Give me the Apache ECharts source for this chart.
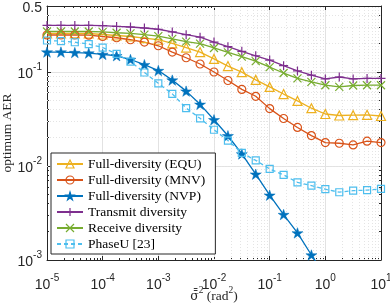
<!DOCTYPE html>
<html><head><meta charset="utf-8">
<script src="https://cdn.jsdelivr.net/npm/echarts@6/dist/echarts.min.js"></script>
<style>html,body{margin:0;padding:0;background:#fff}#c{width:390px;height:304px}</style>
</head><body><div id="c"></div>
<script>
// sample positions of sigma^2 (rad^2)
const xValues = [1e-5,1.78e-5,3.16e-5,5.62e-5,1e-4,1.78e-4,3.16e-4,5.62e-4,1e-3,1.78e-3,3.16e-3,5.62e-3,1e-2,1.78e-2,3.16e-2,5.62e-2,0.1,0.178,0.316,0.562,1,1.78,3.16,5.62,10];
const equ = [0.256,0.256,0.256,0.255,0.249,0.243,0.237,0.228,0.219,0.200,0.181,0.162,0.137,0.115,0.099,0.082,0.069,0.058,0.049,0.041,0.0356,0.0343,0.0346,0.0349,0.0339];
const mnv = [0.246,0.246,0.246,0.245,0.237,0.230,0.219,0.207,0.189,0.162,0.141,0.121,0.0995,0.0808,0.065,0.0549,0.0406,0.0319,0.0256,0.021,0.0177,0.0174,0.0167,0.0183,0.0177];
const nvp = [0.162,0.162,0.160,0.158,0.153,0.148,0.135,0.119,0.103,0.0816,0.0623,0.0451,0.0309,0.0209,0.0134,0.00816,0.00488,0.00304,0.00194,0.00113,0.00068];
const transmit = [0.311,0.311,0.311,0.311,0.309,0.303,0.299,0.292,0.283,0.265,0.248,0.233,0.207,0.185,0.165,0.148,0.133,0.116,0.102,0.092,0.084,0.088,0.084,0.085,0.085];
const receive = [0.268,0.268,0.268,0.268,0.265,0.260,0.256,0.248,0.239,0.224,0.209,0.199,0.179,0.161,0.145,0.130,0.112,0.097,0.085,0.078,0.072,0.069,0.0715,0.072,0.072];
const phaseU = [0.215,0.212,0.206,0.197,0.181,0.155,0.128,0.0983,0.0754,0.0583,0.0411,0.032,0.0242,0.0186,0.01375,0.01144,0.00929,0.00802,0.00667,0.00617,0.00565,0.00525,0.00545,0.00553,0.00569];

const seriesNames = ['Full-diversity (EQU)','Full-diversity (MNV)','Full-diversity (NVP)','Transmit diversity','Receive diversity','PhaseU [23]'];
const xTickValues = [1e-5,1e-4,1e-3,1e-2,1e-1,1,10];
const xTickLabels = ['10^-5','10^-4','10^-3','10^-2','10^-1','10^0','10^1'];
const yTickValues = [1e-3,1e-2,1e-1,0.5];
const yTickLabels = ['10^-3','10^-2','10^-1','0.5'];

const FONT = 'Liberation Serif';
const TFONT = 'Liberation Sans';
const AX = '#262626';

const minorX = [], minorY = [];
for (let d = -5; d <= 0; d++) for (let m = 2; m <= 9; m++) minorX.push(+(m * Math.pow(10, d)).toPrecision(3));
for (let d = -3; d <= -1; d++) for (let m = 2; m <= 9; m++) { const v = +(m * Math.pow(10, d)).toPrecision(3); if (v < 0.5) minorY.push(v); }

function nearestIdx(arr, v) {
  let bi = 0, bd = Infinity;
  arr.forEach((a, i) => { const d = Math.abs(Math.log10(a) - Math.log10(v)); if (d < bd) { bd = d; bi = i; } });
  return bi;
}
function fmtPow(s) {
  if (s.indexOf('^') < 0) return '{b|' + s + '}';
  const p = s.split('^');
  return '{b|' + p[0] + '}{s|' + p[1] + '}';
}
const rich = {
  b: { fontFamily: TFONT, fontSize: 14, color: AX, lineHeight: 19, verticalAlign: 'bottom' },
  s: { fontFamily: TFONT, fontSize: 10, color: AX, lineHeight: 11, verticalAlign: 'top' }
};

const plusPath = 'path://M5,0 L5,10 M0,5 L10,5';
const crossPath = 'path://M0,0 L10,10 M0,10 L10,0';
const starPath = 'path://M50,0 L61.2,34.55 L97.55,34.55 L68.2,55.9 L79.4,90.45 L50,69.1 L20.6,90.45 L31.8,55.9 L2.45,34.55 L38.8,34.55 Z';

function mk(name, ys, color, symbol, size, filled, dashed) {
  return {
    name, type: 'line', xAxisIndex: 0, yAxisIndex: 0,
    data: ys.map((y, i) => [xValues[i], y]),
    color: color,
    symbol, symbolSize: size, symbolKeepAspect: true, showSymbol: true,
    lineStyle: { color, width: 1.3, type: dashed ? [4, 3] : 'solid' },
    itemStyle: filled ? { color, borderColor: color, borderWidth: 0.5 }
                      : { color: 'rgba(255,255,255,0)', borderColor: color, borderWidth: 1.2 },
    emphasis: { disabled: true }, clip: true
  };
}

const series = [
  mk(seriesNames[0], equ, '#EDB120', 'triangle', 9, false),
  mk(seriesNames[1], mnv, '#D95319', 'circle', 8, false),
  mk(seriesNames[2], nvp, '#0072BD', starPath, 11, true),
  mk(seriesNames[3], transmit, '#7E2F8E', plusPath, 9, false),
  mk(seriesNames[4], receive, '#77AC30', crossPath, 8, false),
  mk(seriesNames[5], phaseU, '#4DBEEE', 'rect', 7, false, true)
];
series[0].markLine = {
  silent: true, symbol: 'none', label: { show: false }, z: 1, animation: false,
  lineStyle: { color: '#e4e4e4', width: 1, type: [1, 2] },
  data: minorX.map(v => ({ xAxis: v })).concat(minorY.map(v => ({ yAxis: v })))
};

function logAxis(extra) {
  return Object.assign({
    type: 'log', logBase: 10,
    axisLine: { show: true, lineStyle: { color: AX, width: 1 } },
    axisTick: { show: true, inside: true, length: 4, lineStyle: { color: AX } },
    axisLabel: { show: false },
    splitLine: { show: false }
  }, extra);
}

const option = {
  animation: false,
  backgroundColor: '#fff',
  grid: { left: 47, right: 9, top: 6, bottom: 44, containLabel: false, outerBoundsMode: 'none' },
  xAxis: [
    logAxis({ position: 'bottom', min: 1e-5, max: 10,
      axisLabel: { show: true, margin: 13, formatter: v => fmtPow(xTickLabels[nearestIdx(xTickValues, v)]), rich },
      splitLine: { show: true, lineStyle: { color: '#e2e2e2', width: 1 } },
      name: '{g|σ\u0304\u0304}{s|2}{a| (rad}{s|2}{a|)}', nameLocation: 'middle', nameGap: 25, nameMoveOverlap: false,
      nameTextStyle: { rich: {
        g: { fontFamily: 'DejaVu Serif', fontSize: 12.5, color: AX, lineHeight: 18, verticalAlign: 'bottom' },
        a: { fontFamily: FONT, fontSize: 13.5, color: AX, lineHeight: 18, verticalAlign: 'bottom' },
        s: { fontFamily: FONT, fontSize: 9.5, color: AX, lineHeight: 10, verticalAlign: 'top' } } }
    }),
    logAxis({ position: 'top', min: 1e-5, max: 10 }),
    logAxis({ position: 'bottom', min: 1e-5, max: 10, axisLine: { show: false },
      axisTick: { show: true, inside: true, length: 2, lineStyle: { color: AX }, customValues: minorX } }),
    logAxis({ position: 'top', min: 1e-5, max: 10, axisLine: { show: false },
      axisTick: { show: true, inside: true, length: 2, lineStyle: { color: AX }, customValues: minorX } })
  ],
  yAxis: [
    logAxis({ position: 'left', min: 0.001, max: 0.5,
      axisLabel: { show: true, margin: 5, formatter: v => fmtPow(yTickLabels[nearestIdx(yTickValues, v)]), rich },
      splitLine: { show: true, lineStyle: { color: '#e2e2e2', width: 1 } },
      name: 'optimum AER', nameLocation: 'middle', nameGap: 33, nameMoveOverlap: false,
      nameTextStyle: { fontFamily: FONT, fontSize: 13.5, color: AX }
    }),
    logAxis({ position: 'right', min: 0.001, max: 0.5 }),
    logAxis({ position: 'left', min: 0.001, max: 0.5, axisLine: { show: false },
      axisTick: { show: true, inside: true, length: 2, lineStyle: { color: AX }, customValues: minorY } }),
    logAxis({ position: 'right', min: 0.001, max: 0.5, axisLine: { show: false },
      axisTick: { show: true, inside: true, length: 2, lineStyle: { color: AX }, customValues: minorY } })
  ],
  legend: {
    orient: 'vertical', left: 51, top: 153,
    itemWidth: 26, itemHeight: 10, itemGap: 2,
    padding: [4, 10, 3, 5],
    backgroundColor: '#fff', borderColor: AX, borderWidth: 1, borderRadius: 0,
    itemStyle: { borderWidth: 1.2 },
    textStyle: { fontFamily: FONT, fontSize: 13.5, color: '#000', lineHeight: 14 },
    data: seriesNames, selectedMode: false
  },
  series
};
const chart = echarts.init(document.getElementById('c'), null, { renderer: 'canvas' });
chart.setOption(option);
</script></body></html>
